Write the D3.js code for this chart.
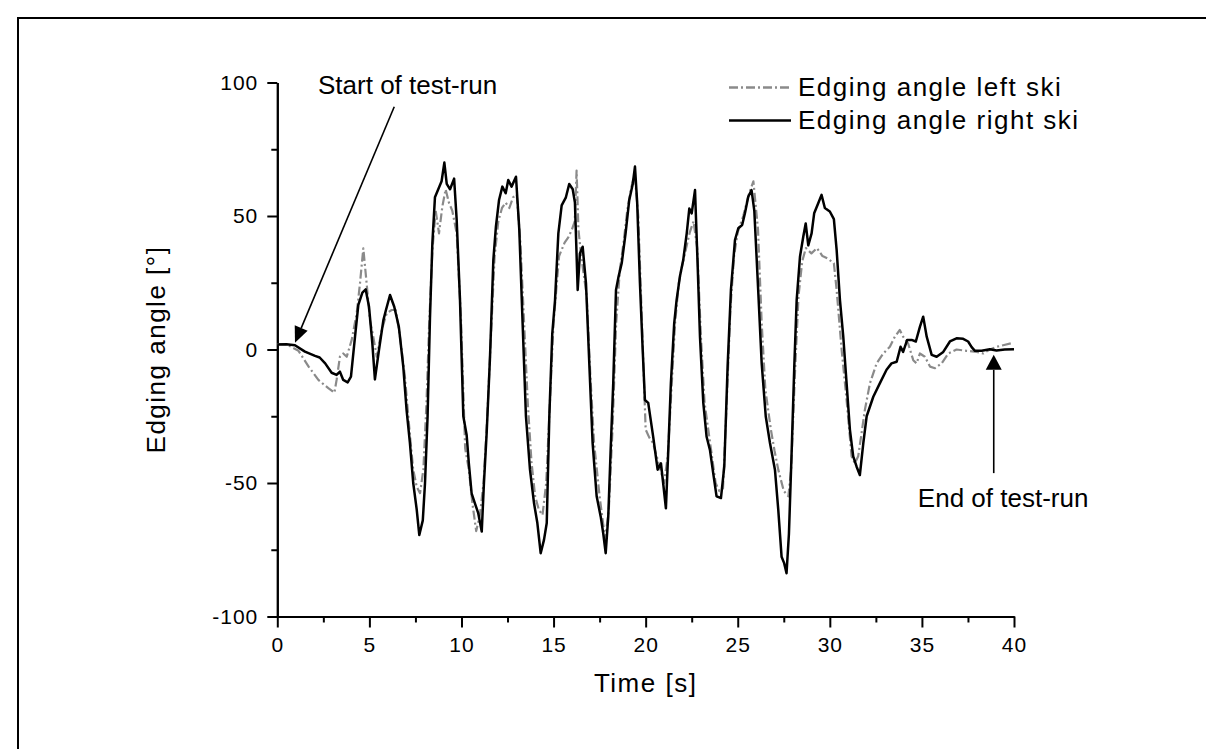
<!DOCTYPE html>
<html lang="en">
<head>
<meta charset="UTF-8">
<title>Edging angle</title>
<script src="https://cdn.jsdelivr.net/npm/d3@7"></script>
<style>
    body { margin: 0; background: #fff; }
    text { font-family: "Liberation Sans", Arial, sans-serif; fill: #000; }
</style>
</head>
<body>
<script>

    //________________________________________________
    // Data
    //________________________________________________
    var xMajorTicks = [0, 5, 10, 15, 20, 25, 30, 35, 40];
    var xMinorTicks = [2.5, 7.5, 12.5, 17.5, 22.5, 27.5, 32.5, 37.5];
    var yMajorTicks = [-100, -50, 0, 50, 100];
    var yMinorTicks = [-75, -25, 25, 75];

    var seriesNames = ['Edging angle left ski', 'Edging angle right ski'];
    var annotationLabels = ['Start of test-run', 'End of test-run'];
    var xTitle = 'Time [s]';
    var yTitle = 'Edging angle [°]';

    // [time s, angle deg]
    var leftSki = [
        [0, 2], [0.5, 2], [1.15, -0.5], [1.7, -6.4], [2.23, -11.4], [2.77, -14.5], [3.1, -16.2], [3.22, -11.4],
        [3.4, -2.7], [3.58, -1.5], [3.77, -2.7], [4.04, 3.6], [4.31, 13.5], [4.49, 24.8], [4.67, 37.9], [4.85, 24.8],
        [5.03, 11], [5.21, 4.8], [5.4, -2.7], [5.67, 7.3], [5.94, 13.6], [6.21, 14.8], [6.43, 14.8], [6.66, 4.8],
        [6.93, -10.2], [7.2, -32], [7.38, -45], [7.57, -51.4], [7.75, -53.8], [7.93, -45], [8.1, -20], [8.24, 8.5],
        [8.42, 37], [8.6, 52], [8.78, 43.5], [8.96, 53.5], [9.14, 60], [9.32, 55], [9.5, 52], [9.74, 43.5],
        [9.97, 12], [10.2, -37], [10.4, -45], [10.6, -58], [10.8, -68], [11.0, -62], [11.2, -50], [11.4, -25],
        [11.6, 5], [11.8, 35], [12.0, 48], [12.2, 53], [12.4, 55], [12.6, 53], [12.8, 57], [13.0, 58],
        [13.2, 40], [13.4, 10], [13.6, -20], [13.8, -42], [14.0, -55], [14.2, -60], [14.4, -62], [14.6, -50],
        [14.8, -20], [15.0, 10], [15.3, 35], [15.6, 40], [15.8, 42], [16.0, 45], [16.15, 48], [16.25, 67],
        [16.35, 45], [16.5, 35], [16.8, 20], [17.0, -10], [17.2, -35], [17.5, -55], [17.8, -71], [18.0, -60],
        [18.2, -30], [18.4, 10], [18.6, 30], [18.8, 40], [19.0, 52], [19.2, 60], [19.4, 66], [19.6, 50],
        [19.8, 10], [20.0, -30], [20.2, -33], [20.4, -35], [20.6, -40], [20.8, -45], [21.0, -50], [21.2, -40],
        [21.4, -15], [21.6, 10], [21.8, 25], [22.0, 32], [22.2, 38], [22.4, 44], [22.6, 48], [22.8, 38],
        [23.0, 5], [23.2, -20], [23.5, -35], [23.8, -50], [24.0, -53], [24.2, -52], [24.4, -20], [24.6, 15],
        [24.8, 35], [25.0, 44], [25.3, 50], [25.6, 58], [25.85, 63], [26.1, 45], [26.3, 10], [26.5, -15],
        [26.8, -30], [27.0, -38], [27.2, -45], [27.5, -53], [27.75, -55], [27.9, -45], [28.1, -10], [28.3, 20],
        [28.5, 33], [28.7, 38], [29.0, 36], [29.3, 38], [29.6, 35], [29.9, 34], [30.22, 32.3], [30.37, 22.3],
        [30.64, 0], [30.91, -18.9], [31.18, -40], [31.36, -42.6], [31.54, -40], [31.72, -31.5], [31.9, -22.7], [32.18, -12.6],
        [32.54, -5.2], [32.9, -1.5], [33.26, 1], [33.53, 4.8], [33.8, 7.3], [33.98, 4.8], [34.25, 2.3], [34.53, -4],
        [34.71, -5.2], [34.89, -1.5], [35.16, -2.7], [35.44, -6.4], [35.71, -7], [36.07, -5.2], [36.43, -1.5], [36.88, 0],
        [37.42, -0.5], [37.97, -0.9], [38.33, -1.5], [38.69, 0], [39.05, 1], [39.41, 1.6], [39.95, 2.5]
    ];

    var rightSki = [
        [0, 1.9], [0.5, 2], [0.96, 1.6], [1.5, -0.8], [2.05, -2.4], [2.3, -3], [2.6, -5.2], [2.95, -8.7],
        [3.22, -9.5], [3.4, -8.3], [3.58, -11.4], [3.82, -12.3], [4.0, -10.2], [4.22, 4.8], [4.4, 16.7], [4.62, 21.3],
        [4.8, 22.5], [4.98, 16], [5.16, 2.3], [5.3, -11.2], [5.52, -0.2], [5.76, 11], [5.9, 14.8], [6.12, 20.4],
        [6.35, 16], [6.6, 8.5], [6.84, -6.4], [7.02, -22.7], [7.2, -35], [7.38, -50], [7.57, -60], [7.71, -69.5],
        [7.9, -64], [8.02, -50], [8.16, -25], [8.29, 12], [8.42, 40], [8.56, 57], [8.74, 60], [8.92, 63],
        [9.07, 70], [9.2, 62], [9.38, 60], [9.6, 64], [9.74, 48.5], [9.92, 18.5], [10.1, -25], [10.28, -32],
        [10.4, -42.6], [10.55, -53.9], [10.73, -57.6], [10.91, -61.3], [11.1, -68.2], [11.22, -50], [11.37, -31], [11.55, -2.7],
        [11.73, 33.5], [11.87, 46], [12.04, 56], [12.22, 61], [12.4, 58.5], [12.54, 63.5], [12.72, 61], [12.96, 64.7],
        [13.14, 44.8], [13.32, 9.8], [13.5, -25], [13.72, -45], [13.94, -57.6], [14.12, -65], [14.3, -76.3], [14.48, -71.3],
        [14.63, -65], [14.77, -25], [14.93, 6], [15.08, 18.5], [15.26, 43.5], [15.44, 54], [15.67, 57], [15.85, 62],
        [16.04, 60], [16.16, 55], [16.31, 22.3], [16.43, 36], [16.58, 38.5], [16.76, 24.8], [16.94, -5.2], [17.12, -35],
        [17.34, -55], [17.56, -62.6], [17.7, -69], [17.83, -76.3], [17.97, -62.6], [18.1, -37.6], [18.24, -12.6], [18.39, 22.3],
        [18.53, 27.3], [18.7, 32.3], [18.91, 43.5], [19.11, 56], [19.3, 62], [19.42, 68.5], [19.54, 55], [19.69, 24.8],
        [19.84, -0.2], [19.96, -18.9], [20.14, -20], [20.41, -32.7], [20.65, -45], [20.83, -42.6], [20.95, -50], [21.1, -59.5],
        [21.23, -37.6], [21.37, -12.6], [21.55, 9.8], [21.68, 18.5], [21.86, 27.3], [22.04, 33.5], [22.23, 43.5], [22.37, 52.8],
        [22.5, 51], [22.68, 59.7], [22.82, 32.3], [22.95, 4.8], [23.13, -20], [23.31, -32.7], [23.49, -37.6], [23.67, -46.4],
        [23.85, -55], [24.09, -55.6], [24.27, -43.8], [24.45, -6.4], [24.63, 22.3], [24.85, 41], [25.03, 45.4], [25.24, 46.6],
        [25.39, 51], [25.57, 57.2], [25.75, 59.7], [25.9, 52], [26.11, 22.3], [26.3, -5.2], [26.52, -25], [26.75, -35],
        [27.02, -45], [27.2, -60], [27.38, -77.6], [27.52, -80], [27.65, -83.8], [27.78, -69], [27.93, -37.6], [28.07, -6.4],
        [28.2, 18.5], [28.38, 34.8], [28.56, 42.3], [28.69, 47.2], [28.83, 39], [29.01, 43.5], [29.15, 51], [29.37, 54.8],
        [29.55, 57.9], [29.73, 53], [30.0, 51.7], [30.22, 48.8], [30.37, 37.3], [30.55, 18.5], [30.73, 4.8], [30.91, -12.6],
        [31.09, -30], [31.27, -40], [31.45, -43.8], [31.63, -47], [31.82, -35], [32.0, -25], [32.36, -17.7], [32.72, -12.6],
        [33.08, -7.6], [33.35, -5.2], [33.63, -4.6], [33.84, 1], [33.98, -0.9], [34.2, 3.6], [34.44, 3.6], [34.67, 3],
        [34.89, 8.5], [35.07, 12.3], [35.26, 4.8], [35.53, -2], [35.8, -2.7], [36.16, -0.9], [36.52, 3], [36.88, 4.2],
        [37.24, 4], [37.51, 3], [37.7, 0.9], [37.88, -0.5], [38.24, -0.5], [38.69, 0.1], [39.05, -0.4], [39.5, 0], [40, 0.1]
    ];

    //________________________________________________
    // DOM preparation
    //________________________________________________
    var width = 1206;
    var height = 749;

    var svg = d3.select('body').append('svg')
            .attr('width', width).attr('height', height)
            .style('display', 'block');

    // frame
    svg.append('path')
            .attr('d', 'M18,' + height + 'V18H' + width)
            .attr('fill', 'none').attr('stroke', '#000').attr('stroke-width', 2);

    var x = d3.scaleLinear().domain([0, 40]).range([277.3, 1014]);
    var y = d3.scaleLinear().domain([-100, 100]).range([616.5, 82.5]);

    // plain hyphen for negatives, as in the original
    var plain = function (d) { return String(d); };

    //________________________________________________
    // Axes
    //________________________________________________
    function styleAxis(g) {
        g.select('.domain').attr('stroke', '#000').attr('stroke-width', 2);
        g.selectAll('.tick line').attr('stroke', '#000').attr('stroke-width', 2);
        g.selectAll('.tick text')
                .style('font-family', '"Liberation Sans", Arial, sans-serif')
                .style('font-size', '21px')
                .style('letter-spacing', '1px')
                .attr('fill', '#000');
    }

    svg.append('g')
            .attr('transform', 'translate(0,' + y(-100) + ')')
            .call(d3.axisBottom(x).tickValues(xMinorTicks).tickSize(6).tickSizeOuter(0).tickFormat(''))
            .call(styleAxis);
    svg.append('g')
            .attr('transform', 'translate(0,' + y(-100) + ')')
            .call(d3.axisBottom(x).tickValues(xMajorTicks).tickSize(11).tickSizeOuter(0).tickPadding(10).tickFormat(plain))
            .call(styleAxis);

    svg.append('g')
            .attr('transform', 'translate(' + x(0) + ',0)')
            .call(d3.axisLeft(y).tickValues(yMinorTicks).tickSize(6).tickSizeOuter(0).tickFormat(''))
            .call(styleAxis);
    svg.append('g')
            .attr('transform', 'translate(' + x(0) + ',0)')
            .call(d3.axisLeft(y).tickValues(yMajorTicks).tickSize(10).tickSizeOuter(0).tickPadding(9).tickFormat(plain))
            .call(styleAxis);

    // axis titles
    svg.append('text')
            .attr('x', (x(0) + x(40)) / 2).attr('y', 692)
            .attr('text-anchor', 'middle')
            .style('font-size', '26px').style('letter-spacing', '1.5px')
            .text(xTitle);

    svg.append('text')
            .attr('transform', 'translate(165,' + y(0) + ') rotate(-90)')
            .attr('text-anchor', 'middle')
            .style('font-size', '26px').style('letter-spacing', '1.5px')
            .text(yTitle);

    //________________________________________________
    // Lines
    //________________________________________________
    var line = d3.line()
            .x(function (d) { return x(d[0]); })
            .y(function (d) { return y(d[1]); });

    svg.append('path')
            .datum(leftSki)
            .attr('d', line)
            .attr('fill', 'none').attr('stroke', '#8a8a8a').attr('stroke-width', 2.2)
            .attr('stroke-dasharray', '9,3,2,3')
            .attr('stroke-linejoin', 'round');

    svg.append('path')
            .datum(rightSki)
            .attr('d', line)
            .attr('fill', 'none').attr('stroke', '#000').attr('stroke-width', 2.5)
            .attr('stroke-linejoin', 'round');

    //________________________________________________
    // Legend
    //________________________________________________
    var legendStyles = [
        {stroke: '#8a8a8a', dash: '9,3,2,3', lineY: 87.5, textY: 96},
        {stroke: '#000', dash: null, lineY: 120.5, textY: 128.5}
    ];
    seriesNames.forEach(function (name, i) {
        var s = legendStyles[i];
        svg.append('line')
                .attr('x1', 729).attr('x2', 791)
                .attr('y1', s.lineY).attr('y2', s.lineY)
                .attr('stroke', s.stroke).attr('stroke-width', 2.3)
                .attr('stroke-dasharray', s.dash);
        svg.append('text')
                .attr('x', 798).attr('y', s.textY)
                .style('font-size', '26px').style('letter-spacing', '1.5px')
                .text(name);
    });

    //________________________________________________
    // Annotations
    //________________________________________________
    function arrow(x1, y1, x2, y2, len, half) {
        var dx = x2 - x1, dy = y2 - y1;
        var l = Math.sqrt(dx * dx + dy * dy);
        var ux = dx / l, uy = dy / l;
        var bx = x2 - ux * len, by = y2 - uy * len;
        svg.append('line')
                .attr('x1', x1).attr('y1', y1).attr('x2', bx).attr('y2', by)
                .attr('stroke', '#000').attr('stroke-width', 1.6);
        svg.append('path')
                .attr('d', 'M' + x2 + ',' + y2 +
                        'L' + (bx - uy * half) + ',' + (by + ux * half) +
                        'L' + (bx + uy * half) + ',' + (by - ux * half) + 'Z')
                .attr('fill', '#000');
    }

    svg.append('text')
            .attr('x', x(2.21)).attr('y', 94)
            .style('font-size', '26px')
            .text(annotationLabels[0]);
    arrow(x(6.35), y(90.9), x(0.96), y(2.5), 16, 7);

    svg.append('text')
            .attr('x', x(34.78)).attr('y', 507)
            .style('font-size', '26px')
            .text(annotationLabels[1]);
    arrow(x(38.9), y(-46.3), x(38.9), y(-2), 15, 8);

</script>
</body>
</html>
